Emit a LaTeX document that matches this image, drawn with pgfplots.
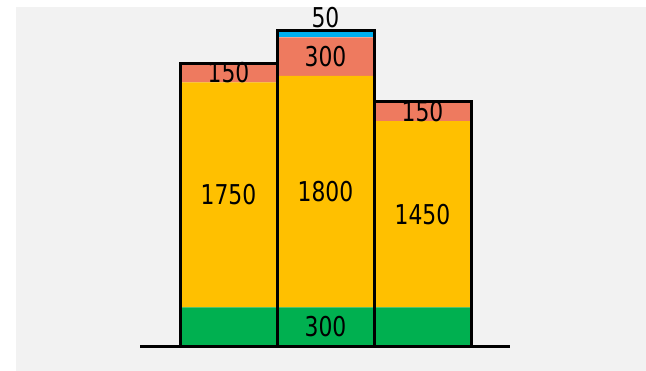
\documentclass[border=0pt]{standalone}
\usepackage{pgfplots}
\pgfplotsset{compat=1.18}
\usepackage{fontspec}
\setmainfont{DejaVu Sans Condensed}
\newfontfamily\labelfont{DejaVu Sans Condensed}[FakeStretch=0.89]

\definecolor{panel}{HTML}{F2F2F2}
\definecolor{cgreen}{HTML}{00B050}
\definecolor{cyellow}{HTML}{FFC000}
\definecolor{csalmon}{HTML}{EE7A5F}
\definecolor{cblue}{HTML}{00B0F0}

\pgfplotsset{
  frame/.style={
    scale only axis, width=630bp, height=364bp,
    xmin=16, xmax=646, ymin=-194.4, ymax=2636.7,
    axis lines=none, clip=false,
  },
  seglabel/.style={only marks, mark=none,
    nodes near coords, point meta=explicit symbolic,
    every node near coord/.append style={text=black,
      font=\labelfont\fontsize{27.4}{32}\selectfont}},
}

\begin{document}
\begin{tikzpicture}
  % page and panel
  \path (-16bp,0) rectangle (630bp,371bp);
  \fill[panel] (0,0) rectangle (630bp,364bp);

  % stacked segments
  \begin{axis}[frame, ybar stacked, bar width=97]
    \addplot[fill=cgreen, draw=none] coordinates
      {(228.5,300) (325.5,300) (422.5,300)};
    \addplot[fill=cyellow, draw=none] coordinates
      {(228.5,1750) (325.5,1800) (422.5,1450)};
    \addplot[fill=csalmon, draw=none] coordinates
      {(228.5,150) (325.5,300) (422.5,150)};
    \addplot[fill=cblue, draw=none] coordinates
      {(228.5,0) (325.5,50) (422.5,0)};
  \end{axis}

  % bar outlines and base line
  \begin{axis}[frame, ybar, bar width=97]
    \addplot[draw=black, fill=none, line width=3bp, bar shift=0pt] coordinates
      {(228.5,2200) (325.5,2450) (422.5,1900)};
    \addplot[sharp plot, black, line width=3bp] coordinates
      {(140,0) (510,0)};
  \end{axis}

  % segment values: in the middle of each segment, the thin top one above its bar
  \begin{axis}[frame]
    \addplot[seglabel, every node near coord/.append style={anchor=center}]
      coordinates {
        (325.5,150) [300]
        (228.5,1175) [1750] (325.5,1200) [1800] (422.5,1025) [1450]
        (228.5,2125) [150] (325.5,2250) [300] (422.5,1825) [150]
      };
    \addplot[seglabel, every node near coord/.append style={anchor=south,
        inner sep=1bp, yshift=1.5bp}]
      coordinates {(325.5,2450) [50]};
  \end{axis}
\end{tikzpicture}
\end{document}
